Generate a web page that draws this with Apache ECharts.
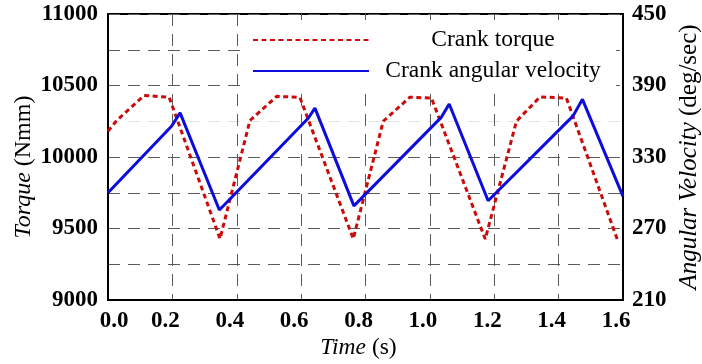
<!DOCTYPE html>
<html>
<head>
<meta charset="utf-8">
<script src="https://cdn.jsdelivr.net/npm/echarts@6/dist/echarts.min.js"></script>
<style>
  html, body { margin: 0; padding: 0; background: #fff; }
  #chart { width: 702px; height: 364px; }
</style>
</head>
<body>
<div id="chart"></div>
<script>
// Crank torque (Nmm) sampled at its corner points over time (s)
const torqueTime = [0, 0.027, 0.112, 0.19, 0.348, 0.441, 0.524, 0.596, 0.762, 0.855, 0.938, 1.005, 1.172, 1.269, 1.342, 1.424, 1.582];
const torqueValues = [10180, 10255, 10430, 10418, 9428, 10255, 10424, 10417, 9428, 10250, 10418, 10412, 9426, 10250, 10420, 10412, 9426];

// Crank angular velocity (deg/sec) at its corner points over time (s)
const velocityTime = [0, 0.198, 0.224, 0.346, 0.622, 0.643, 0.764, 1.036, 1.06, 1.181, 1.445, 1.474, 1.6];
const velocityValues = [300, 356, 367, 285.5, 362.5, 371, 289, 363.5, 374.5, 293.3, 364.5, 378.4, 297];

// Axis ranges and tick steps
const timeRange = [0, 1.6, 0.2];
const torqueRange = [9000, 11000, 250];
const velocityRange = [210, 450, 60];

const seriesNames = ['Crank torque', 'Crank angular velocity'];

const SERIF = "'Liberation Serif', 'Times New Roman', serif";
const RED = '#cc0a0a';
const BLUE = '#0c0cdc';
const GRID_GRAY = '#5a5a5a';

const zip = (xs, ys) => xs.map((x, i) => [x, ys[i]]);

const tickLabel = { fontFamily: SERIF, fontSize: 23, fontWeight: 'bold', color: '#000' };
const nameStyle = size => ({
  fontFamily: SERIF, fontSize: size, color: '#000',
  rich: { i: { fontFamily: SERIF, fontSize: size, fontStyle: 'italic', color: '#000' } }
});

// left-axis split lines: 9000..11000 step 250, the 10250 line is faint
const torqueLineColors = [];
for (let v = torqueRange[0]; v <= torqueRange[1]; v += torqueRange[2]) {
  torqueLineColors.push(v === 10250 ? '#e4e4e4' : GRID_GRAY);
}

const chart = echarts.init(document.getElementById('chart'), null, { renderer: 'canvas' });

chart.setOption({
  animation: false,
  backgroundColor: '#fff',
  grid: {
    left: 108, right: 79, top: 14, bottom: 64,
    containLabel: false,
    outerBoundsMode: 'none',
    show: true, borderColor: '#000', borderWidth: 2, backgroundColor: 'transparent'
  },
  legend: {
    orient: 'vertical',
    left: 245, top: 20,
    padding: [8, 4, 9, 7],
    itemGap: 7,
    itemWidth: 116,
    itemHeight: 20,
    backgroundColor: '#fff',
    itemStyle: { opacity: 0 },
    data: seriesNames,
    formatter: name => '{t|' + name + '}',
    textStyle: {
      fontFamily: SERIF, fontSize: 23.5, color: '#000',
      rich: { t: { fontFamily: SERIF, fontSize: 23.5, color: '#000', width: 238, align: 'center', lineHeight: 24 } }
    }
  },
  xAxis: {
    type: 'value',
    min: timeRange[0], max: timeRange[1], interval: timeRange[2],
    name: '{i|Time} (s)',
    nameLocation: 'middle',
    nameGap: 36,
    nameMoveOverlap: false,
    nameTextStyle: Object.assign({ padding: [0, 14, 0, 0] }, nameStyle(23.5)),
    axisLine: { show: true, lineStyle: { color: '#000', width: 2 } },
    axisTick: { show: false },
    axisLabel: Object.assign({
      margin: 10,
      formatter: v => (v === 0 ? '{first|' : '{rest|') + v.toFixed(1) + '}',
      rich: {
        first: Object.assign({ padding: [0, 0, 0, 12] }, tickLabel),
        rest: Object.assign({ padding: [0, 14, 0, 0] }, tickLabel)
      }
    }, tickLabel),
    splitLine: { show: true, lineStyle: { color: GRID_GRAY, width: 1, type: [12, 8] } }
  },
  yAxis: [
    {
      type: 'value',
      min: torqueRange[0], max: torqueRange[1], interval: torqueRange[2],
      name: '{i|Torque} (Nmm)',
      nameLocation: 'middle',
      nameRotate: 90,
      nameGap: 72,
      nameMoveOverlap: false,
      nameTextStyle: Object.assign({ padding: [0, 20, 0, 0] }, nameStyle(24)),
      axisLine: { show: true, lineStyle: { color: '#000', width: 2 } },
      axisTick: { show: false },
      axisLabel: Object.assign({ margin: 10, formatter: v => (v % 500 === 0 ? String(v) : '') }, tickLabel),
      splitLine: { show: true, lineStyle: { color: torqueLineColors, width: 1, type: [12, 8] } }
    },
    {
      type: 'value',
      position: 'right',
      min: velocityRange[0], max: velocityRange[1], interval: velocityRange[2],
      name: '{i|Angular Velocity} (deg/sec)',
      nameLocation: 'middle',
      nameRotate: 90,
      nameGap: 54,
      nameTextStyle: nameStyle(25),
      axisLine: { show: true, lineStyle: { color: '#000', width: 2 } },
      axisTick: { show: false },
      axisLabel: Object.assign({ margin: 9 }, tickLabel),
      splitLine: { show: false }
    }
  ],
  series: [
    {
      name: seriesNames[0],
      type: 'line',
      yAxisIndex: 0,
      data: zip(torqueTime, torqueValues),
      symbol: 'none',
      z: 3,
      lineStyle: { color: RED, width: 3, type: [5, 3.5] },
      itemStyle: { color: RED }
    },
    {
      name: seriesNames[1],
      type: 'line',
      yAxisIndex: 1,
      data: zip(velocityTime, velocityValues),
      symbol: 'none',
      z: 4,
      lineStyle: { color: BLUE, width: 3, type: 'solid' },
      itemStyle: { color: BLUE }
    }
  ]
});
</script>
</body>
</html>
